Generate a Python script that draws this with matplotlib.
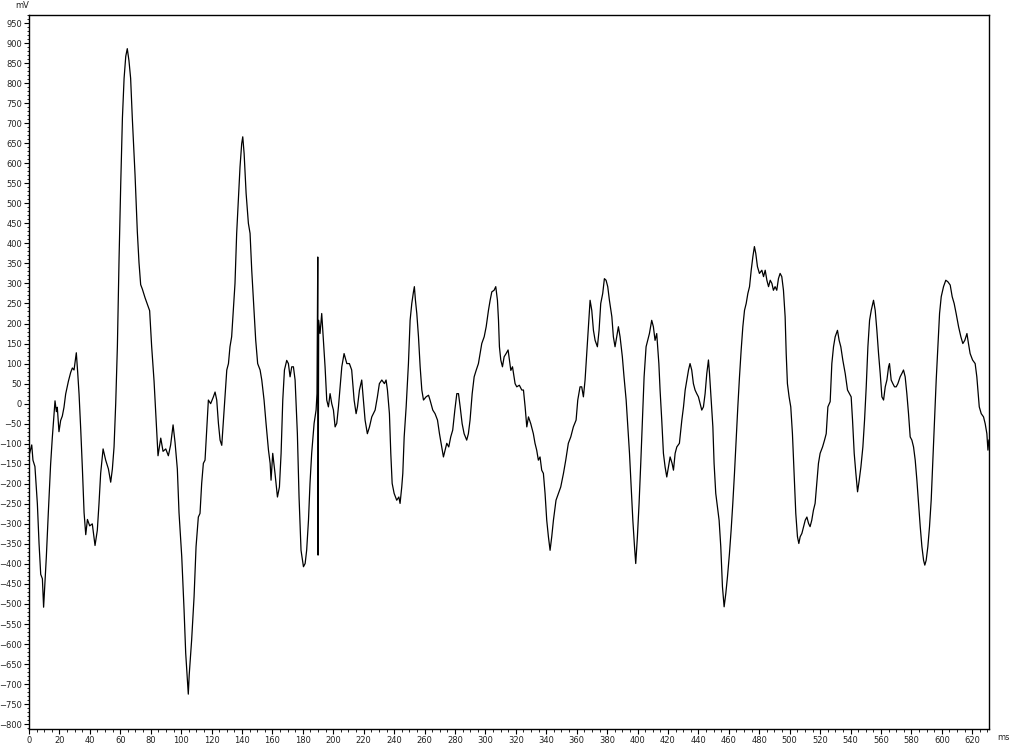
import matplotlib
matplotlib.use("Agg")
import matplotlib.pyplot as plt
from matplotlib.ticker import MultipleLocator

# time (ms) and potential (mV)
t_ms = [
    0, 1.8, 2.6, 3.9, 5.5, 6.6, 7.7, 8.8, 9.6, 10.5, 11.4, 12.7, 14.2, 15.3, 16.4, 17.1,
    18, 18.6, 19.7, 20.8, 21.9, 23, 24.1, 25.9, 27.4, 28.5, 29.6, 31.1, 32, 32.9, 34,
    35.1, 36.2, 37.3, 38.4, 39.9, 41.6, 43.4, 44.9, 46, 47.1, 48.7, 50.4, 52.2, 53.7,
    54.8, 55.9, 57, 58.1, 59.2, 60.3, 61.4, 62.5, 63.6, 64.6, 65.7, 66.8, 67.9, 69.7,
    71.2, 72.3, 73.4, 74.5, 76.3, 77.8, 79.3, 80.6, 82.2, 83.7, 84.8, 86.6, 88.1, 89.9,
    91.6, 93.1, 94.7, 96, 97.5, 98.6, 100.4, 101.9, 103, 104.7, 105.3, 106.9,
    108.5, 109.8, 111.3, 112.4, 113.5, 114.6, 115.7, 116.8, 117.9, 119.4, 121.2, 122.3,
    123.4, 124.5, 125.6, 126.7, 127.8, 128.9, 130, 131.1, 132.1, 133.2, 134.3, 135.4,
    136.5, 137.6, 138.7, 139.8, 140.5, 141.4, 142.7, 144.2, 145.3, 146.4, 147.5, 149,
    150.3, 151.9, 153, 154.5, 155.8, 157.4, 158.5, 159.1, 160.2, 161.7, 163.3, 164.6,
    165.7, 166.8, 167.9, 169.4, 170.5, 171.6, 172.7, 173.8, 174.9, 176.4, 177.5, 178.8,
    180.4, 181.5, 182.5, 183.7, 184.7, 185.8, 187.4, 188.7, 189.3, 189.8, 190, 190.4,
    191.3, 192.4, 193.5, 194.6, 195.7, 196.8, 197.9, 199, 200.1, 201.2, 202.3, 203.4,
    204.5, 205.6, 207.1, 208.9, 210.6, 212.1,
    213.7, 215, 215.9, 217.2, 218.7, 219.8, 220.9, 222.4, 223.8, 225.3, 227.5, 229,
    230.3, 231.9, 233.6, 234.7, 235.6, 236.9, 237.8, 238.7, 240, 241.7, 243.1, 243.9,
    245, 245.7, 246.6, 247.9, 249.4, 250.5, 251.6, 252.7, 253.3, 254, 254.9, 256, 257.1,
    258.2, 259.3, 261, 262.6, 263.6, 265.4, 266.9, 268.5, 269.8, 271.3, 272.4, 273.5,
    274.6, 275.9, 277.2, 278.5, 279.9, 281.2, 282.3, 283.4, 284.7, 286, 287.7, 288.8,
    289.9, 291.3, 292.6, 293.9, 295.4, 296.5, 297.6, 299.2, 300.5, 302, 303.1, 304.2,
    305.7, 306.8, 307.9, 308.6, 309.2, 310.1, 311.2, 312.3, 313.6, 314.9, 315.8, 316.7,
    317.8,
    319.5, 320.6, 322.3, 323.9, 325, 326.1, 327.2, 328.3, 329.8, 331.5, 332.6, 333.7,
    334.8, 335.9, 337, 338.1, 339.2, 340.3, 341.4, 342.5, 343.6, 344.7, 346.4, 348,
    349.5, 351.3, 352.8, 354.5, 356.1, 357.8, 359.6, 360.7, 362.2, 363.3, 364.4, 365.5,
    366.6, 367.7, 368.8, 369.9, 371, 372.1, 373.6, 374.7, 375.8, 377.1, 378.2, 379.3,
    380.4, 381.5, 383.1, 384.1, 385.2, 386.3, 387.4, 388.5, 390, 391.1, 392.5, 393.6,
    394.7, 395.8, 396.9, 398, 398.8, 399.9, 401, 402.1, 403.2, 404.3, 405.6, 406.7,
    407.8, 409.3, 410.4, 411.5, 412.6, 414, 414.8, 415.9, 417, 418.1, 419.2, 420.3,
    421.4, 422.7,
    423.6, 424.7, 425.8, 427.5, 429.1, 430.2, 431.3, 432.4, 433.5, 434.5, 435.6, 436.7,
    437.8, 438.9, 440, 441.1, 442.2, 443.3, 444.4, 445.5, 446.6, 447.3, 448.1, 449.5,
    450.3, 451.4, 452.5, 453.6, 454.7, 455.8, 456.9, 458, 459.1, 460.4, 461.5, 462.6,
    463.7, 464.8, 465.9, 467, 468.1, 469.2, 470.3, 471.4, 472.5, 473.6, 474.7, 475.8,
    476.8, 477.7, 478.8, 480.1, 481.7, 482.8, 483.9, 485, 486.1, 487.2, 488.3, 489.3,
    490.4, 491.5, 492.6, 493.7, 494.8, 495.9, 497, 497.7, 498.5, 499.6, 500.7, 501.8,
    502.9, 504, 505.1, 506, 506.9, 508, 509.1, 510.2, 511.3, 512.4, 513.4, 514.5, 515.6,
    516.7, 517.8, 518.9, 520, 521.6, 522.9, 524, 525.1,
    526.6, 527.7, 528.8, 529.9, 531.4, 532.5, 533.6, 534.9, 536.5, 538, 539.3, 540.4,
    541.3, 542.4, 543.5, 544.6, 545.7, 546.8, 548.1, 549.2, 550.3, 551.4, 552.5, 553.6,
    555.1, 556.2, 557.3, 558.4, 559.5, 560.6, 561.7, 562.8, 563.9, 565, 565.6, 566.7,
    567.8, 568.9, 570, 571.1, 572.6, 573.7, 574.8, 575.9, 577, 578.1, 579.2, 580.3,
    581.4, 582.5, 583.6, 584.7, 585.8, 586.9, 588, 588.8, 589.7, 590.8, 591.9, 593,
    594.1, 595.2, 596.3, 597.4, 598.5, 599.6, 601.1, 602.6, 604, 605.5, 606.8, 608.1,
    609.4, 611, 612.5, 613.8, 615.1, 616.5, 617.5, 618.6, 620.2, 621.9, 623, 624.6,
    625.9, 627.4, 628.5, 629.6, 630.3, 630.9,
]
v_mv = [
    -130, -103, -141, -157, -250, -349, -426, -437, -508, -447, -382, -272, -152, -86, -31, 7,
    -20, -9, -70, -42, -31, -9, 24, 56, 78, 89, 84, 127, 78, 24, -64,
    -163, -272, -327, -289, -305, -300, -354, -316, -250, -174, -113, -141, -163, -196,
    -163, -108, 1, 144, 363, 549, 713, 812, 867, 886, 856, 812, 713, 571,
    429, 352, 297, 286, 264, 248, 232, 144, 56, -53, -130, -86, -119, -113,
    -130, -103, -53, -97, -163, -272, -382, -513, -623, -725, -677, -590,
    -482, -357, -283, -274, -199, -149, -141, -66, 9, 0, 17, 29,
    9, -49, -91, -104, -41, 25, 84, 100, 142, 167, 233, 300,
    425, 508, 591, 649, 666, 624, 525, 450, 425, 333, 258, 159,
    100, 84, 59, 9, -49, -116, -149, -191, -124, -174, -233, -208,
    -124, 9, 84, 108, 100, 67, 92, 92, 59, -75, -233, -366,
    -407, -399, -366, -291, -199, -124, -49, -16, 25, 366, -378, 208,
    175, 225, 158, 92, 9, -8, 25, 0, -16, -58, -49, -8,
    42, 92, 125, 100, 100, 84,
    9, -25, -8, 34, 59, 9, -41, -75, -58, -33, -16, 17,
    50, 59, 50, 59, 34, -25, -124, -199, -224, -241, -233, -249,
    -208, -174, -83, -8, 100, 208, 250, 279, 292, 258, 225, 167, 92,
    34, 9, 17, 21, 9, -16, -25, -41, -75, -108, -133, -116,
    -99, -108, -83, -66, -16, 25, 25, -8, -50, -75, -91, -75,
    -41, 25, 67, 83, 100, 125, 150, 167, 192, 233, 258, 279,
    283, 292, 258, 208, 142, 109, 92, 117, 125, 134, 109, 83,
    92,
    50, 42, 46, 34, 34, -8, -58, -33, -50, -75, -99, -116,
    -141, -133, -166, -174, -224, -291, -332, -366, -332, -291, -241, -224,
    -208, -174, -141, -99, -83, -58, -41, 9, 42, 42, 17, 59,
    125, 192, 258, 233, 183, 158, 142, 183, 250, 275, 312, 308,
    292, 258, 217, 167, 142, 167, 192, 167, 117, 67, 9, -58,
    -124, -208, -291, -357, -399, -332, -249, -149, -41, 67, 142, 158,
    175, 208, 192, 158, 175, 100, 34, -41, -124, -158, -183, -158,
    -133, -149,
    -166, -124, -108, -99, -41, -8, 34, 59, 84, 100, 84, 50,
    34, 25, 17, 0, -16, -8, 25, 75, 109, 75, 25, -58,
    -149, -224, -258, -291, -357, -457, -507, -474, -432, -374, -316, -249,
    -174, -91, -8, 67, 134, 192, 233, 250, 275, 292, 333, 367,
    392, 375, 342, 325, 333, 317, 333, 308, 292, 308, 300, 283,
    292, 283, 312, 325, 317, 283, 217, 125, 50, 17, -8, -75,
    -174, -274, -332, -349, -332, -324, -307, -291, -283, -299, -307, -291, -266,
    -249, -199, -149, -124, -108, -91, -75, -8,
    5, 100, 142, 167, 183, 158, 142, 109, 75, 34, 25, 17,
    -41, -124, -174, -220, -191, -158, -108, -41, 42, 142, 208, 233,
    258, 233, 183, 125, 75, 17, 9, 42, 59, 92, 100, 59,
    50, 42, 42, 50, 67, 75, 84, 67, 25, -25, -83, -91,
    -108, -141, -191, -249, -307, -357, -391, -403, -391, -357, -307, -241,
    -141, -41, 59, 142, 225, 267, 292, 308, 304, 296, 267, 250,
    225, 192, 167, 150, 158, 175, 150, 125, 109, 100, 67, -8,
    -25, -33, -50, -75, -116, -91,
]

fig = plt.figure(figsize=(10.24, 7.45), dpi=100)
ax = fig.add_axes([29 / 1024, 1 - 729 / 745, 960 / 1024, 714 / 745])

ax.plot(t_ms, v_mv, color='black', linewidth=0.9)

ax.set_xlim(0, 631)
ax.set_ylim(-812, 970)

ax.xaxis.set_major_locator(MultipleLocator(20))
ax.xaxis.set_minor_locator(MultipleLocator(5))
ax.yaxis.set_major_locator(MultipleLocator(50))
ax.yaxis.set_minor_locator(MultipleLocator(10))

ax.tick_params(which='major', direction='out', length=3.5, width=0.8,
               labelsize=6, labelcolor='#222222', pad=1.5)
ax.tick_params(which='minor', direction='out', length=1.8, width=0.6)

for sp in ax.spines.values():
    sp.set_linewidth(1.0)
    sp.set_color('black')

# unit labels
fig.text(15 / 1024, 1 - 6 / 745, 'mV', fontsize=6, color='#222222',
         ha='left', va='center')
fig.text(997 / 1024, 1 - 738 / 745, 'ms', fontsize=6, color='#222222',
         ha='left', va='center')

fig.savefig('out.png', dpi=100)
